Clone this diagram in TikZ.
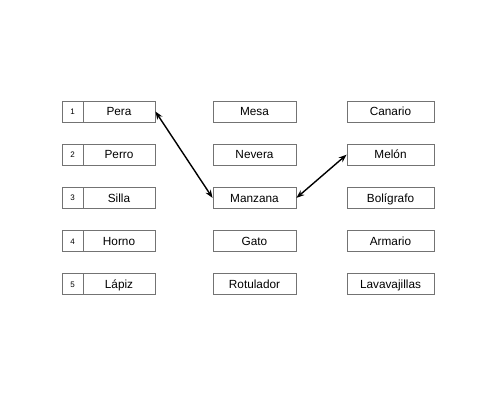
\documentclass[tikz,border=0pt]{standalone}
\usepackage{fontspec}
\setmainfont{Liberation Sans}
\usetikzlibrary{arrows.meta}
\begin{document}
\begin{tikzpicture}[x=1pt,y=-1pt,
  box/.style={draw=black!55,line width=0.9pt,minimum height=21pt,inner sep=0pt,text height=8.4pt,text depth=0pt,font=\fontsize{11.8}{13}\selectfont},
  numbox/.style={draw=black!55,line width=0.9pt,minimum height=21pt,minimum width=21pt,inner sep=0pt,text height=5.8pt,text depth=0pt,font=\fontsize{8}{10}\selectfont},
  link/.style={line width=1.4pt,{Stealth[length=8pt,width=6pt]}-{Stealth[length=8pt,width=6pt]}}]
\useasboundingbox (0,0) rectangle (500,400);
\foreach \n/\name/\m/\r [count=\i] in {1/Pera/Mesa/Canario,2/Perro/Nevera/Melón,3/Silla/Manzana/Bolígrafo,4/Horno/Gato/Armario,5/Lápiz/Rotulador/Lavavajillas}{
  \pgfmathsetmacro{\yy}{111.5+43.2*(\i-1)}
  \node[numbox] (n\i) at (72.5,\yy) {\n};
  \node[box,minimum width=72pt] (l\i) at (119,\yy) {\name};
  \node[box,minimum width=83pt] (m\i) at (254.5,\yy) {\m};
  \node[box,minimum width=87pt] (r\i) at (390.5,\yy) {\r};
}
\draw[link] (l1.east) -- (m3.west);
\draw[link] (m3.east) -- (r2.west);
\end{tikzpicture}
\end{document}
